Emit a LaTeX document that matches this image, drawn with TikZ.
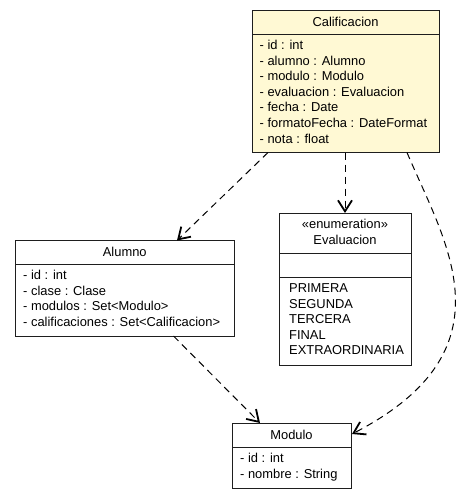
\documentclass[tikz,border=0pt]{standalone}
\usepackage{fontspec}
\setmainfont{Liberation Sans}
\usetikzlibrary{arrows.meta,calc}
\definecolor{calfill}{RGB}{255,249,212}
\definecolor{edgec}{RGB}{30,30,30}
\begin{document}
\begin{tikzpicture}[x=1pt,y=-1pt,
 box/.style={draw=edgec,line width=1pt,rectangle,inner sep=0pt,outer sep=0pt,anchor=north west},
 sep/.style={draw=edgec,line width=1pt},
 txt/.style={anchor=base west,inner sep=0pt,font=\fontsize{12.9}{15}\selectfont},
 ttl/.style={anchor=base,inner sep=0pt,font=\fontsize{12.9}{15}\selectfont},
 dep/.style={draw=black,line width=1pt,dash pattern=on 7pt off 5pt,-{Straight Barb[length=11pt,width=14pt,line width=1.8pt]}}
]
\useasboundingbox[fill=white] (0,0) rectangle (467,499);

% Calificacion
\node[box,fill=calfill,minimum width=187pt,minimum height=142.5pt] (cal) at (252,10) {};
\draw[sep] (252,34) -- (439,34);
\node[ttl] (calt) at (345.5,26.5) {Calificacion};
\node[txt] (ca1) at (259.5,49.5) {- id : int};
\node[txt] (ca2) at (259.5,65.1) {- alumno : Alumno};
\node[txt] (ca3) at (259.5,80.7) {- modulo : Modulo};
\node[txt] (ca4) at (259.5,96.3) {- evaluacion : Evaluacion};
\node[txt] (ca5) at (259.5,111.9) {- fecha : Date};
\node[txt] (ca6) at (259.5,127.5) {- formatoFecha : DateFormat};
\node[txt] (ca7) at (259.5,143.1) {- nota : float};

% Alumno
\node[box,fill=white,minimum width=218.5pt,minimum height=95.5pt] (alu) at (15.5,240.5) {};
\draw[sep] (15.5,264) -- (234,264);
\node[ttl] (alut) at (124.75,256.5) {Alumno};
\node[txt] (al1) at (23,279.5) {- id : int};
\node[txt] (al2) at (23,295.1) {- clase : Clase};
\node[txt] (al3) at (23,310.7) {- modulos : Set<Modulo>};
\node[txt] (al4) at (23,326.3) {- calificaciones : Set<Calificacion>};

% Evaluacion
\node[box,fill=white,minimum width=132pt,minimum height=152pt] (eva) at (279,213) {};
\draw[sep] (279,253) -- (411,253);
\draw[sep] (279,277) -- (411,277);
\node[ttl] (evs) at (345,228.5) {«enumeration»};
\node[ttl] (evt) at (345,244) {Evaluacion};
\node[txt] (ev1) at (289,292.5) {PRIMERA};
\node[txt] (ev2) at (289,308) {SEGUNDA};
\node[txt] (ev3) at (289,323.5) {TERCERA};
\node[txt] (ev4) at (289,339) {FINAL};
\node[txt] (ev5) at (289,354.5) {EXTRAORDINARIA};

% Modulo
\node[box,fill=white,minimum width=119pt,minimum height=65pt] (mod) at (232,423) {};
\draw[sep] (232,447) -- (351,447);
\node[ttl] (modt) at (291.5,439.5) {Modulo};
\node[txt] (mo1) at (240,462.5) {- id : int};
\node[txt] (mo2) at (240,478) {- nombre : String};

% dependencies
\draw[dep] ($(cal.south west)+(16,0)$) -- ($(alu.north west)+(161.5,0)$);
\draw[dep] ($(cal.south west)+(93,0)$) -- ($(eva.north west)+(66,0)$);
\draw[dep] ($(cal.south west)+(155,0)$) .. controls (444.6,241.7) and (515.8,349.4) .. ($(mod.north east)+(1,11)$);
\draw[dep] ($(alu.south west)+(158,0)$) -- ($(mod.north west)+(28,0)$);
\end{tikzpicture}
\end{document}
